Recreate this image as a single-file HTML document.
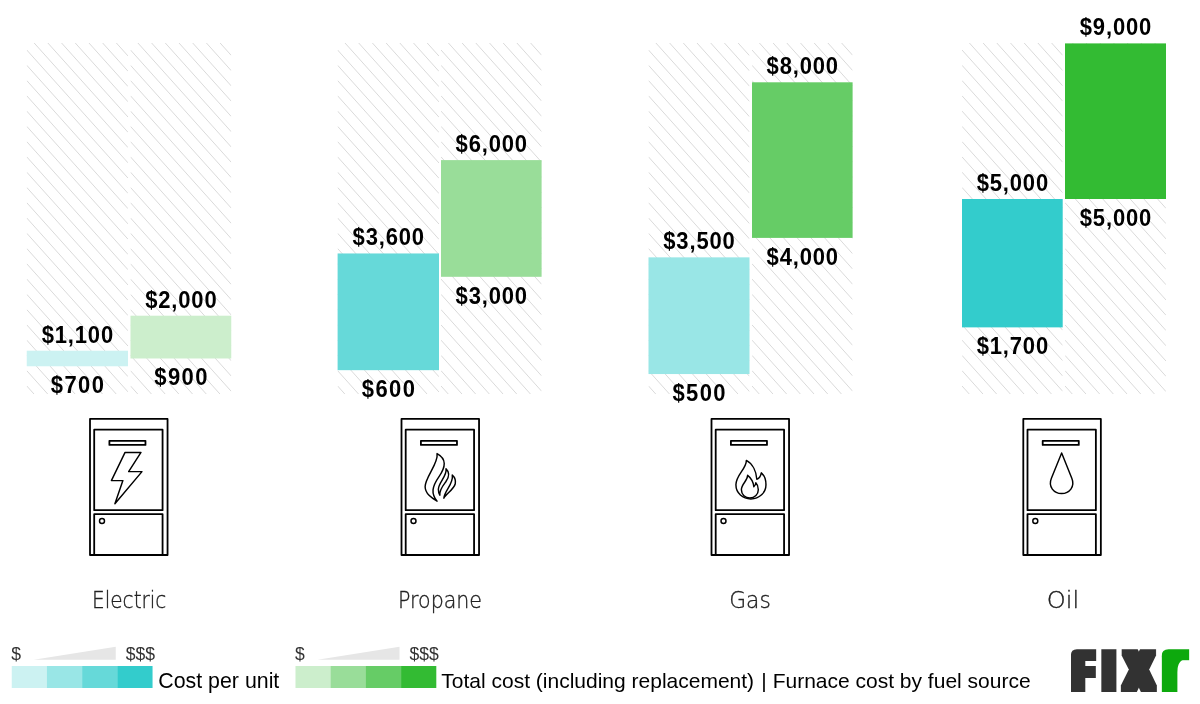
<!DOCTYPE html>
<html lang="en"><head><meta charset="utf-8"><title>Furnace cost by fuel source</title>
<style>
html,body{margin:0;padding:0;background:#fff;}
body{width:1200px;height:704px;overflow:hidden;position:relative;font-family:"Liberation Sans",sans-serif;}
svg{position:absolute;left:0;top:0;display:block;}
.val{font-family:"Liberation Sans",sans-serif;font-weight:700;font-size:22px;fill:#000;text-anchor:middle;letter-spacing:0.85px;}
.v4{letter-spacing:1.4px;}
.name{font-family:"DejaVu Sans ExtraLight","DejaVu Sans","Liberation Sans",sans-serif;font-weight:200;font-size:23.4px;fill:#222;stroke:#222;stroke-width:0.35px;text-anchor:middle;}
.leg{font-family:"Liberation Sans",sans-serif;font-weight:400;font-size:21px;fill:#000;}
.dol{font-family:"Liberation Sans",sans-serif;font-weight:400;font-size:18.6px;fill:#333;}
.ic{fill:none;stroke:#000;stroke-width:1.8;stroke-linejoin:round;stroke-linecap:round;}
.ic2{fill:none;stroke:#000;stroke-width:1.45;stroke-linejoin:round;stroke-linecap:round;}
.hatch line{stroke:#d8d8d8;stroke-width:0.95;}
</style></head><body>
<svg width="1200" height="704" viewBox="0 0 1200 704">

<defs>
<clipPath id="c0"><rect x="26.75" y="43" width="101.25" height="351"/></clipPath>
<clipPath id="c1"><rect x="130.5" y="43" width="100.75" height="351"/></clipPath>
<clipPath id="c2"><rect x="337.6" y="43" width="101.40" height="351"/></clipPath>
<clipPath id="c3"><rect x="441" y="43" width="100.60" height="351"/></clipPath>
<clipPath id="c4"><rect x="648.5" y="43" width="101.00" height="351"/></clipPath>
<clipPath id="c5"><rect x="752" y="43" width="100.60" height="351"/></clipPath>
<clipPath id="c6"><rect x="962" y="43" width="100.70" height="351"/></clipPath>
<clipPath id="c7"><rect x="1065" y="43" width="101.00" height="351"/></clipPath>
</defs>
<g class="hatch" clip-path="url(#c0)">
<line x1="26.75" y1="-87.43" x2="128.00" y2="25.42"/>
<line x1="26.75" y1="-72.16" x2="128.00" y2="40.69"/>
<line x1="26.75" y1="-56.89" x2="128.00" y2="55.96"/>
<line x1="26.75" y1="-41.62" x2="128.00" y2="71.23"/>
<line x1="26.75" y1="-26.35" x2="128.00" y2="86.50"/>
<line x1="26.75" y1="-11.08" x2="128.00" y2="101.77"/>
<line x1="26.75" y1="4.19" x2="128.00" y2="117.04"/>
<line x1="26.75" y1="19.46" x2="128.00" y2="132.31"/>
<line x1="26.75" y1="34.73" x2="128.00" y2="147.58"/>
<line x1="26.75" y1="50.00" x2="128.00" y2="162.85"/>
<line x1="26.75" y1="65.27" x2="128.00" y2="178.12"/>
<line x1="26.75" y1="80.54" x2="128.00" y2="193.39"/>
<line x1="26.75" y1="95.81" x2="128.00" y2="208.66"/>
<line x1="26.75" y1="111.08" x2="128.00" y2="223.93"/>
<line x1="26.75" y1="126.35" x2="128.00" y2="239.20"/>
<line x1="26.75" y1="141.62" x2="128.00" y2="254.47"/>
<line x1="26.75" y1="156.89" x2="128.00" y2="269.74"/>
<line x1="26.75" y1="172.16" x2="128.00" y2="285.01"/>
<line x1="26.75" y1="187.43" x2="128.00" y2="300.28"/>
<line x1="26.75" y1="202.70" x2="128.00" y2="315.55"/>
<line x1="26.75" y1="217.97" x2="128.00" y2="330.82"/>
<line x1="26.75" y1="233.24" x2="128.00" y2="346.09"/>
<line x1="26.75" y1="248.51" x2="128.00" y2="361.36"/>
<line x1="26.75" y1="263.78" x2="128.00" y2="376.63"/>
<line x1="26.75" y1="279.05" x2="128.00" y2="391.90"/>
<line x1="26.75" y1="294.32" x2="128.00" y2="407.17"/>
<line x1="26.75" y1="309.59" x2="128.00" y2="422.44"/>
<line x1="26.75" y1="324.86" x2="128.00" y2="437.71"/>
<line x1="26.75" y1="340.13" x2="128.00" y2="452.98"/>
<line x1="26.75" y1="355.40" x2="128.00" y2="468.25"/>
<line x1="26.75" y1="370.67" x2="128.00" y2="483.52"/>
<line x1="26.75" y1="385.94" x2="128.00" y2="498.79"/>
</g>
<g class="hatch" clip-path="url(#c1)">
<line x1="130.50" y1="-87.43" x2="231.25" y2="24.87"/>
<line x1="130.50" y1="-72.16" x2="231.25" y2="40.14"/>
<line x1="130.50" y1="-56.89" x2="231.25" y2="55.41"/>
<line x1="130.50" y1="-41.62" x2="231.25" y2="70.68"/>
<line x1="130.50" y1="-26.35" x2="231.25" y2="85.95"/>
<line x1="130.50" y1="-11.08" x2="231.25" y2="101.22"/>
<line x1="130.50" y1="4.19" x2="231.25" y2="116.49"/>
<line x1="130.50" y1="19.46" x2="231.25" y2="131.76"/>
<line x1="130.50" y1="34.73" x2="231.25" y2="147.03"/>
<line x1="130.50" y1="50.00" x2="231.25" y2="162.30"/>
<line x1="130.50" y1="65.27" x2="231.25" y2="177.57"/>
<line x1="130.50" y1="80.54" x2="231.25" y2="192.84"/>
<line x1="130.50" y1="95.81" x2="231.25" y2="208.11"/>
<line x1="130.50" y1="111.08" x2="231.25" y2="223.38"/>
<line x1="130.50" y1="126.35" x2="231.25" y2="238.65"/>
<line x1="130.50" y1="141.62" x2="231.25" y2="253.92"/>
<line x1="130.50" y1="156.89" x2="231.25" y2="269.19"/>
<line x1="130.50" y1="172.16" x2="231.25" y2="284.46"/>
<line x1="130.50" y1="187.43" x2="231.25" y2="299.73"/>
<line x1="130.50" y1="202.70" x2="231.25" y2="315.00"/>
<line x1="130.50" y1="217.97" x2="231.25" y2="330.27"/>
<line x1="130.50" y1="233.24" x2="231.25" y2="345.54"/>
<line x1="130.50" y1="248.51" x2="231.25" y2="360.81"/>
<line x1="130.50" y1="263.78" x2="231.25" y2="376.08"/>
<line x1="130.50" y1="279.05" x2="231.25" y2="391.35"/>
<line x1="130.50" y1="294.32" x2="231.25" y2="406.62"/>
<line x1="130.50" y1="309.59" x2="231.25" y2="421.89"/>
<line x1="130.50" y1="324.86" x2="231.25" y2="437.16"/>
<line x1="130.50" y1="340.13" x2="231.25" y2="452.43"/>
<line x1="130.50" y1="355.40" x2="231.25" y2="467.70"/>
<line x1="130.50" y1="370.67" x2="231.25" y2="482.97"/>
<line x1="130.50" y1="385.94" x2="231.25" y2="498.24"/>
</g>
<g class="hatch" clip-path="url(#c2)">
<line x1="337.60" y1="-87.43" x2="439.00" y2="25.59"/>
<line x1="337.60" y1="-72.16" x2="439.00" y2="40.86"/>
<line x1="337.60" y1="-56.89" x2="439.00" y2="56.13"/>
<line x1="337.60" y1="-41.62" x2="439.00" y2="71.40"/>
<line x1="337.60" y1="-26.35" x2="439.00" y2="86.67"/>
<line x1="337.60" y1="-11.08" x2="439.00" y2="101.94"/>
<line x1="337.60" y1="4.19" x2="439.00" y2="117.21"/>
<line x1="337.60" y1="19.46" x2="439.00" y2="132.48"/>
<line x1="337.60" y1="34.73" x2="439.00" y2="147.75"/>
<line x1="337.60" y1="50.00" x2="439.00" y2="163.02"/>
<line x1="337.60" y1="65.27" x2="439.00" y2="178.29"/>
<line x1="337.60" y1="80.54" x2="439.00" y2="193.56"/>
<line x1="337.60" y1="95.81" x2="439.00" y2="208.83"/>
<line x1="337.60" y1="111.08" x2="439.00" y2="224.10"/>
<line x1="337.60" y1="126.35" x2="439.00" y2="239.37"/>
<line x1="337.60" y1="141.62" x2="439.00" y2="254.64"/>
<line x1="337.60" y1="156.89" x2="439.00" y2="269.91"/>
<line x1="337.60" y1="172.16" x2="439.00" y2="285.18"/>
<line x1="337.60" y1="187.43" x2="439.00" y2="300.45"/>
<line x1="337.60" y1="202.70" x2="439.00" y2="315.72"/>
<line x1="337.60" y1="217.97" x2="439.00" y2="330.99"/>
<line x1="337.60" y1="233.24" x2="439.00" y2="346.26"/>
<line x1="337.60" y1="248.51" x2="439.00" y2="361.53"/>
<line x1="337.60" y1="263.78" x2="439.00" y2="376.80"/>
<line x1="337.60" y1="279.05" x2="439.00" y2="392.07"/>
<line x1="337.60" y1="294.32" x2="439.00" y2="407.34"/>
<line x1="337.60" y1="309.59" x2="439.00" y2="422.61"/>
<line x1="337.60" y1="324.86" x2="439.00" y2="437.88"/>
<line x1="337.60" y1="340.13" x2="439.00" y2="453.15"/>
<line x1="337.60" y1="355.40" x2="439.00" y2="468.42"/>
<line x1="337.60" y1="370.67" x2="439.00" y2="483.69"/>
<line x1="337.60" y1="385.94" x2="439.00" y2="498.96"/>
</g>
<g class="hatch" clip-path="url(#c3)">
<line x1="441.00" y1="-87.43" x2="541.60" y2="24.70"/>
<line x1="441.00" y1="-72.16" x2="541.60" y2="39.97"/>
<line x1="441.00" y1="-56.89" x2="541.60" y2="55.24"/>
<line x1="441.00" y1="-41.62" x2="541.60" y2="70.51"/>
<line x1="441.00" y1="-26.35" x2="541.60" y2="85.78"/>
<line x1="441.00" y1="-11.08" x2="541.60" y2="101.05"/>
<line x1="441.00" y1="4.19" x2="541.60" y2="116.32"/>
<line x1="441.00" y1="19.46" x2="541.60" y2="131.59"/>
<line x1="441.00" y1="34.73" x2="541.60" y2="146.86"/>
<line x1="441.00" y1="50.00" x2="541.60" y2="162.13"/>
<line x1="441.00" y1="65.27" x2="541.60" y2="177.40"/>
<line x1="441.00" y1="80.54" x2="541.60" y2="192.67"/>
<line x1="441.00" y1="95.81" x2="541.60" y2="207.94"/>
<line x1="441.00" y1="111.08" x2="541.60" y2="223.21"/>
<line x1="441.00" y1="126.35" x2="541.60" y2="238.48"/>
<line x1="441.00" y1="141.62" x2="541.60" y2="253.75"/>
<line x1="441.00" y1="156.89" x2="541.60" y2="269.02"/>
<line x1="441.00" y1="172.16" x2="541.60" y2="284.29"/>
<line x1="441.00" y1="187.43" x2="541.60" y2="299.56"/>
<line x1="441.00" y1="202.70" x2="541.60" y2="314.83"/>
<line x1="441.00" y1="217.97" x2="541.60" y2="330.10"/>
<line x1="441.00" y1="233.24" x2="541.60" y2="345.37"/>
<line x1="441.00" y1="248.51" x2="541.60" y2="360.64"/>
<line x1="441.00" y1="263.78" x2="541.60" y2="375.91"/>
<line x1="441.00" y1="279.05" x2="541.60" y2="391.18"/>
<line x1="441.00" y1="294.32" x2="541.60" y2="406.45"/>
<line x1="441.00" y1="309.59" x2="541.60" y2="421.72"/>
<line x1="441.00" y1="324.86" x2="541.60" y2="436.99"/>
<line x1="441.00" y1="340.13" x2="541.60" y2="452.26"/>
<line x1="441.00" y1="355.40" x2="541.60" y2="467.53"/>
<line x1="441.00" y1="370.67" x2="541.60" y2="482.80"/>
<line x1="441.00" y1="385.94" x2="541.60" y2="498.07"/>
</g>
<g class="hatch" clip-path="url(#c4)">
<line x1="648.50" y1="-87.43" x2="749.50" y2="25.14"/>
<line x1="648.50" y1="-72.16" x2="749.50" y2="40.41"/>
<line x1="648.50" y1="-56.89" x2="749.50" y2="55.68"/>
<line x1="648.50" y1="-41.62" x2="749.50" y2="70.95"/>
<line x1="648.50" y1="-26.35" x2="749.50" y2="86.22"/>
<line x1="648.50" y1="-11.08" x2="749.50" y2="101.49"/>
<line x1="648.50" y1="4.19" x2="749.50" y2="116.76"/>
<line x1="648.50" y1="19.46" x2="749.50" y2="132.03"/>
<line x1="648.50" y1="34.73" x2="749.50" y2="147.30"/>
<line x1="648.50" y1="50.00" x2="749.50" y2="162.57"/>
<line x1="648.50" y1="65.27" x2="749.50" y2="177.84"/>
<line x1="648.50" y1="80.54" x2="749.50" y2="193.11"/>
<line x1="648.50" y1="95.81" x2="749.50" y2="208.38"/>
<line x1="648.50" y1="111.08" x2="749.50" y2="223.65"/>
<line x1="648.50" y1="126.35" x2="749.50" y2="238.92"/>
<line x1="648.50" y1="141.62" x2="749.50" y2="254.19"/>
<line x1="648.50" y1="156.89" x2="749.50" y2="269.46"/>
<line x1="648.50" y1="172.16" x2="749.50" y2="284.73"/>
<line x1="648.50" y1="187.43" x2="749.50" y2="300.00"/>
<line x1="648.50" y1="202.70" x2="749.50" y2="315.27"/>
<line x1="648.50" y1="217.97" x2="749.50" y2="330.54"/>
<line x1="648.50" y1="233.24" x2="749.50" y2="345.81"/>
<line x1="648.50" y1="248.51" x2="749.50" y2="361.08"/>
<line x1="648.50" y1="263.78" x2="749.50" y2="376.35"/>
<line x1="648.50" y1="279.05" x2="749.50" y2="391.62"/>
<line x1="648.50" y1="294.32" x2="749.50" y2="406.89"/>
<line x1="648.50" y1="309.59" x2="749.50" y2="422.16"/>
<line x1="648.50" y1="324.86" x2="749.50" y2="437.43"/>
<line x1="648.50" y1="340.13" x2="749.50" y2="452.70"/>
<line x1="648.50" y1="355.40" x2="749.50" y2="467.97"/>
<line x1="648.50" y1="370.67" x2="749.50" y2="483.24"/>
<line x1="648.50" y1="385.94" x2="749.50" y2="498.51"/>
</g>
<g class="hatch" clip-path="url(#c5)">
<line x1="752.00" y1="-87.43" x2="852.60" y2="24.70"/>
<line x1="752.00" y1="-72.16" x2="852.60" y2="39.97"/>
<line x1="752.00" y1="-56.89" x2="852.60" y2="55.24"/>
<line x1="752.00" y1="-41.62" x2="852.60" y2="70.51"/>
<line x1="752.00" y1="-26.35" x2="852.60" y2="85.78"/>
<line x1="752.00" y1="-11.08" x2="852.60" y2="101.05"/>
<line x1="752.00" y1="4.19" x2="852.60" y2="116.32"/>
<line x1="752.00" y1="19.46" x2="852.60" y2="131.59"/>
<line x1="752.00" y1="34.73" x2="852.60" y2="146.86"/>
<line x1="752.00" y1="50.00" x2="852.60" y2="162.13"/>
<line x1="752.00" y1="65.27" x2="852.60" y2="177.40"/>
<line x1="752.00" y1="80.54" x2="852.60" y2="192.67"/>
<line x1="752.00" y1="95.81" x2="852.60" y2="207.94"/>
<line x1="752.00" y1="111.08" x2="852.60" y2="223.21"/>
<line x1="752.00" y1="126.35" x2="852.60" y2="238.48"/>
<line x1="752.00" y1="141.62" x2="852.60" y2="253.75"/>
<line x1="752.00" y1="156.89" x2="852.60" y2="269.02"/>
<line x1="752.00" y1="172.16" x2="852.60" y2="284.29"/>
<line x1="752.00" y1="187.43" x2="852.60" y2="299.56"/>
<line x1="752.00" y1="202.70" x2="852.60" y2="314.83"/>
<line x1="752.00" y1="217.97" x2="852.60" y2="330.10"/>
<line x1="752.00" y1="233.24" x2="852.60" y2="345.37"/>
<line x1="752.00" y1="248.51" x2="852.60" y2="360.64"/>
<line x1="752.00" y1="263.78" x2="852.60" y2="375.91"/>
<line x1="752.00" y1="279.05" x2="852.60" y2="391.18"/>
<line x1="752.00" y1="294.32" x2="852.60" y2="406.45"/>
<line x1="752.00" y1="309.59" x2="852.60" y2="421.72"/>
<line x1="752.00" y1="324.86" x2="852.60" y2="436.99"/>
<line x1="752.00" y1="340.13" x2="852.60" y2="452.26"/>
<line x1="752.00" y1="355.40" x2="852.60" y2="467.53"/>
<line x1="752.00" y1="370.67" x2="852.60" y2="482.80"/>
<line x1="752.00" y1="385.94" x2="852.60" y2="498.07"/>
</g>
<g class="hatch" clip-path="url(#c6)">
<line x1="962.00" y1="-87.43" x2="1062.70" y2="24.81"/>
<line x1="962.00" y1="-72.16" x2="1062.70" y2="40.08"/>
<line x1="962.00" y1="-56.89" x2="1062.70" y2="55.35"/>
<line x1="962.00" y1="-41.62" x2="1062.70" y2="70.62"/>
<line x1="962.00" y1="-26.35" x2="1062.70" y2="85.89"/>
<line x1="962.00" y1="-11.08" x2="1062.70" y2="101.16"/>
<line x1="962.00" y1="4.19" x2="1062.70" y2="116.43"/>
<line x1="962.00" y1="19.46" x2="1062.70" y2="131.70"/>
<line x1="962.00" y1="34.73" x2="1062.70" y2="146.97"/>
<line x1="962.00" y1="50.00" x2="1062.70" y2="162.24"/>
<line x1="962.00" y1="65.27" x2="1062.70" y2="177.51"/>
<line x1="962.00" y1="80.54" x2="1062.70" y2="192.78"/>
<line x1="962.00" y1="95.81" x2="1062.70" y2="208.05"/>
<line x1="962.00" y1="111.08" x2="1062.70" y2="223.32"/>
<line x1="962.00" y1="126.35" x2="1062.70" y2="238.59"/>
<line x1="962.00" y1="141.62" x2="1062.70" y2="253.86"/>
<line x1="962.00" y1="156.89" x2="1062.70" y2="269.13"/>
<line x1="962.00" y1="172.16" x2="1062.70" y2="284.40"/>
<line x1="962.00" y1="187.43" x2="1062.70" y2="299.67"/>
<line x1="962.00" y1="202.70" x2="1062.70" y2="314.94"/>
<line x1="962.00" y1="217.97" x2="1062.70" y2="330.21"/>
<line x1="962.00" y1="233.24" x2="1062.70" y2="345.48"/>
<line x1="962.00" y1="248.51" x2="1062.70" y2="360.75"/>
<line x1="962.00" y1="263.78" x2="1062.70" y2="376.02"/>
<line x1="962.00" y1="279.05" x2="1062.70" y2="391.29"/>
<line x1="962.00" y1="294.32" x2="1062.70" y2="406.56"/>
<line x1="962.00" y1="309.59" x2="1062.70" y2="421.83"/>
<line x1="962.00" y1="324.86" x2="1062.70" y2="437.10"/>
<line x1="962.00" y1="340.13" x2="1062.70" y2="452.37"/>
<line x1="962.00" y1="355.40" x2="1062.70" y2="467.64"/>
<line x1="962.00" y1="370.67" x2="1062.70" y2="482.91"/>
<line x1="962.00" y1="385.94" x2="1062.70" y2="498.18"/>
</g>
<g class="hatch" clip-path="url(#c7)">
<line x1="1065.00" y1="-87.43" x2="1166.00" y2="25.14"/>
<line x1="1065.00" y1="-72.16" x2="1166.00" y2="40.41"/>
<line x1="1065.00" y1="-56.89" x2="1166.00" y2="55.68"/>
<line x1="1065.00" y1="-41.62" x2="1166.00" y2="70.95"/>
<line x1="1065.00" y1="-26.35" x2="1166.00" y2="86.22"/>
<line x1="1065.00" y1="-11.08" x2="1166.00" y2="101.49"/>
<line x1="1065.00" y1="4.19" x2="1166.00" y2="116.76"/>
<line x1="1065.00" y1="19.46" x2="1166.00" y2="132.03"/>
<line x1="1065.00" y1="34.73" x2="1166.00" y2="147.30"/>
<line x1="1065.00" y1="50.00" x2="1166.00" y2="162.57"/>
<line x1="1065.00" y1="65.27" x2="1166.00" y2="177.84"/>
<line x1="1065.00" y1="80.54" x2="1166.00" y2="193.11"/>
<line x1="1065.00" y1="95.81" x2="1166.00" y2="208.38"/>
<line x1="1065.00" y1="111.08" x2="1166.00" y2="223.65"/>
<line x1="1065.00" y1="126.35" x2="1166.00" y2="238.92"/>
<line x1="1065.00" y1="141.62" x2="1166.00" y2="254.19"/>
<line x1="1065.00" y1="156.89" x2="1166.00" y2="269.46"/>
<line x1="1065.00" y1="172.16" x2="1166.00" y2="284.73"/>
<line x1="1065.00" y1="187.43" x2="1166.00" y2="300.00"/>
<line x1="1065.00" y1="202.70" x2="1166.00" y2="315.27"/>
<line x1="1065.00" y1="217.97" x2="1166.00" y2="330.54"/>
<line x1="1065.00" y1="233.24" x2="1166.00" y2="345.81"/>
<line x1="1065.00" y1="248.51" x2="1166.00" y2="361.08"/>
<line x1="1065.00" y1="263.78" x2="1166.00" y2="376.35"/>
<line x1="1065.00" y1="279.05" x2="1166.00" y2="391.62"/>
<line x1="1065.00" y1="294.32" x2="1166.00" y2="406.89"/>
<line x1="1065.00" y1="309.59" x2="1166.00" y2="422.16"/>
<line x1="1065.00" y1="324.86" x2="1166.00" y2="437.43"/>
<line x1="1065.00" y1="340.13" x2="1166.00" y2="452.70"/>
<line x1="1065.00" y1="355.40" x2="1166.00" y2="467.97"/>
<line x1="1065.00" y1="370.67" x2="1166.00" y2="483.24"/>
<line x1="1065.00" y1="385.94" x2="1166.00" y2="498.51"/>
</g>
<rect x="26.75" y="350.71" width="101.25" height="15.56" fill="#ccf2f2"/>
<rect x="130.5" y="315.70" width="100.75" height="42.79" fill="#cceecc"/>
<rect x="337.6" y="253.46" width="101.40" height="116.70" fill="#66d9d9"/>
<rect x="441" y="160.10" width="100.60" height="116.70" fill="#99dd99"/>
<rect x="648.5" y="257.35" width="101.00" height="116.70" fill="#99e6e6"/>
<rect x="752" y="82.30" width="100.60" height="155.60" fill="#66cc66"/>
<rect x="962" y="199.00" width="100.70" height="128.37" fill="#33cccc"/>
<rect x="1065" y="43.40" width="101.00" height="155.60" fill="#33bb33"/>
<text class="val" transform="translate(77.83 342.61) scale(1 1.115)">$1,100</text>
<text class="val v4" transform="translate(78.08 393.27) scale(1 1.115)">$700</text>
<text class="val" transform="translate(181.32 307.60) scale(1 1.115)">$2,000</text>
<text class="val v4" transform="translate(181.57 385.49) scale(1 1.115)">$900</text>
<text class="val" transform="translate(388.75 245.36) scale(1 1.115)">$3,600</text>
<text class="val v4" transform="translate(389.00 397.16) scale(1 1.115)">$600</text>
<text class="val" transform="translate(491.75 152.00) scale(1 1.115)">$6,000</text>
<text class="val" transform="translate(491.75 303.80) scale(1 1.115)">$3,000</text>
<text class="val" transform="translate(699.45 249.25) scale(1 1.115)">$3,500</text>
<text class="val v4" transform="translate(699.70 401.05) scale(1 1.115)">$500</text>
<text class="val" transform="translate(802.75 74.20) scale(1 1.115)">$8,000</text>
<text class="val" transform="translate(802.75 264.90) scale(1 1.115)">$4,000</text>
<text class="val" transform="translate(1012.80 190.90) scale(1 1.115)">$5,000</text>
<text class="val" transform="translate(1012.80 354.37) scale(1 1.115)">$1,700</text>
<text class="val" transform="translate(1115.95 35.30) scale(1 1.115)">$9,000</text>
<text class="val" transform="translate(1115.95 226.00) scale(1 1.115)">$5,000</text>
<rect class="ic" x="90.00" y="418.9" width="77.55" height="136.1"/>
<rect class="ic" x="94.20" y="429.7" width="68.37" height="80.5"/>
<path class="ic" d="M94.20 555V514.1H162.57V555"/>
<rect class="ic" x="109.40" y="440.85" width="36.07" height="4.1"/>
<circle class="ic2" cx="102.00" cy="520.9" r="2.5"/>
<rect class="ic" x="401.50" y="418.9" width="77.55" height="136.1"/>
<rect class="ic" x="405.70" y="429.7" width="68.37" height="80.5"/>
<path class="ic" d="M405.70 555V514.1H474.07V555"/>
<rect class="ic" x="420.90" y="440.85" width="36.07" height="4.1"/>
<circle class="ic2" cx="413.50" cy="520.9" r="2.5"/>
<rect class="ic" x="711.50" y="418.9" width="77.55" height="136.1"/>
<rect class="ic" x="715.70" y="429.7" width="68.37" height="80.5"/>
<path class="ic" d="M715.70 555V514.1H784.07V555"/>
<rect class="ic" x="730.90" y="440.85" width="36.07" height="4.1"/>
<circle class="ic2" cx="723.50" cy="520.9" r="2.5"/>
<rect class="ic" x="1023.30" y="418.9" width="77.55" height="136.1"/>
<rect class="ic" x="1027.50" y="429.7" width="68.37" height="80.5"/>
<path class="ic" d="M1027.50 555V514.1H1095.87V555"/>
<rect class="ic" x="1042.70" y="440.85" width="36.07" height="4.1"/>
<circle class="ic2" cx="1035.30" cy="520.9" r="2.5"/>
<path class="ic2" d="M125.06 452.44H140.98L128.65 471.64H141.98L114.9 503.7L122.9 480.6H111.4Z"/>
<path class="ic2" d="M437.06 453.63C438.86 462.89 424.93 477.81 425.12 486.77C425.32 493.73 431.39 497.71 437.06 501.19C430.90 493.73 431.89 486.77 438.86 476.82C445.82 466.87 446.82 458.91 437.06 453.63Z"/><path class="ic2" d="M446.02 468.86C447.31 475.82 438.36 482.79 438.36 489.25C438.36 492.24 439.05 493.73 439.85 495.22C439.35 489.75 442.84 485.77 445.82 481.79C449.30 476.82 449.30 471.84 446.02 468.86Z"/><path class="ic2" d="M452.29 475.02C453.78 483.78 444.33 490.75 443.83 498.21C445.32 494.23 453.78 489.75 455.27 483.78C455.97 479.80 454.28 476.82 452.29 475.02Z"/>
<path class="ic2" d="M746.37 460.40C746.37 468.86 735.92 474.83 735.92 484.78C735.92 493.23 742.89 498.91 750.85 498.91C759.30 498.91 765.97 492.74 765.97 484.78C765.97 479.80 764.28 475.32 761.29 472.84C760.80 475.82 759.30 478.31 756.82 479.30C756.32 471.84 752.84 463.88 746.37 460.40Z"/><path class="ic2" d="M747.66 475.32C747.66 480.80 741.39 483.78 741.39 489.75C741.39 494.73 745.37 497.91 749.85 497.91C754.83 497.91 758.31 494.23 758.31 489.75C758.31 486.77 757.31 484.28 755.82 482.79C755.62 484.78 754.83 485.97 753.83 486.77C753.33 481.79 750.85 477.81 747.66 475.32Z"/>
<path class="ic2" d="M1061.65 452.94C1061.65 452.94 1051.40 478.31 1051.40 478.31C1047.92 486.77 1053.89 493.53 1061.65 493.53C1069.31 493.53 1075.28 486.77 1071.80 478.31C1071.80 478.31 1061.65 452.94 1061.65 452.94Z"/>
<text class="name" x="129.2" y="607.6" textLength="74.4" lengthAdjust="spacingAndGlyphs">Electric</text>
<text class="name" x="440" y="607.6" textLength="84" lengthAdjust="spacingAndGlyphs">Propane</text>
<text class="name" x="750" y="607.6" textLength="41.6" lengthAdjust="spacingAndGlyphs">Gas</text>
<text class="name" x="1063" y="607.6" textLength="32.4" lengthAdjust="spacingAndGlyphs">Oil</text>
<rect x="11.75" y="666" width="35.50" height="22" fill="#ccf2f2"/>
<rect x="46.95" y="666" width="35.50" height="22" fill="#99e6e6"/>
<rect x="82.15" y="666" width="35.50" height="22" fill="#66d9d9"/>
<rect x="117.35" y="666" width="35.20" height="22" fill="#33cccc"/>
<text class="dol" x="11.35" y="659.8" textLength="9.75" lengthAdjust="spacingAndGlyphs">$</text>
<polygon points="33.75,659.75 115.75,659.75 115.75,646.75" fill="#e6e6e6"/>
<text class="dol" x="125.85" y="659.8" textLength="29.3" lengthAdjust="spacingAndGlyphs">$$$</text>
<rect x="295.50" y="666" width="35.50" height="22" fill="#cceecc"/>
<rect x="330.70" y="666" width="35.50" height="22" fill="#99dd99"/>
<rect x="365.90" y="666" width="35.50" height="22" fill="#66cc66"/>
<rect x="401.10" y="666" width="35.20" height="22" fill="#33bb33"/>
<text class="dol" x="295.10" y="659.8" textLength="9.75" lengthAdjust="spacingAndGlyphs">$</text>
<polygon points="317.50,659.75 399.50,659.75 399.50,646.75" fill="#e6e6e6"/>
<text class="dol" x="409.60" y="659.8" textLength="29.3" lengthAdjust="spacingAndGlyphs">$$$</text>
<text class="leg" x="158.3" y="688" style="font-size:21.35px">Cost per unit</text>
<text class="leg" x="441.3" y="688">Total cost (including replacement) <tspan dx="1.4">| Furnace cost by fuel source</tspan></text>
<defs><filter id="fat" x="-20%" y="-20%" width="140%" height="140%"><feMorphology operator="dilate" radius="5 3"/></filter>
<filter id="fat2" x="-20%" y="-20%" width="140%" height="140%"><feMorphology operator="dilate" radius="2.6 3.0"/></filter>
<clipPath id="lc1"><path d="M1070.9 700V655.3Q1070.9 649.3 1076.9 649.3H1160V700Z"/></clipPath>
<clipPath id="lc2"><path d="M1161.6 700V656.3Q1161.6 649.3 1168.6 649.3H1195V700Z"/></clipPath></defs>
<g clip-path="url(#lc1)"><text filter="url(#fat)" y="689" style="font-family:&quot;Liberation Sans&quot;,sans-serif;font-weight:700;font-size:53.6px;fill:#333"><tspan x="1074.03" textLength="18.27" lengthAdjust="spacingAndGlyphs">F</tspan><tspan x="1104.11" textLength="9.75" lengthAdjust="spacingAndGlyphs">I</tspan><tspan x="1125.37" textLength="27.20" lengthAdjust="spacingAndGlyphs">X</tspan></text></g>
<g clip-path="url(#lc2)"><text filter="url(#fat2)" y="689.0" style="font-family:&quot;Liberation Sans&quot;,sans-serif;font-weight:700;font-size:75.6px;fill:#0ca90c"><tspan x="1159.82" textLength="27.43" lengthAdjust="spacingAndGlyphs">r</tspan></text></g>
</svg></body></html>
